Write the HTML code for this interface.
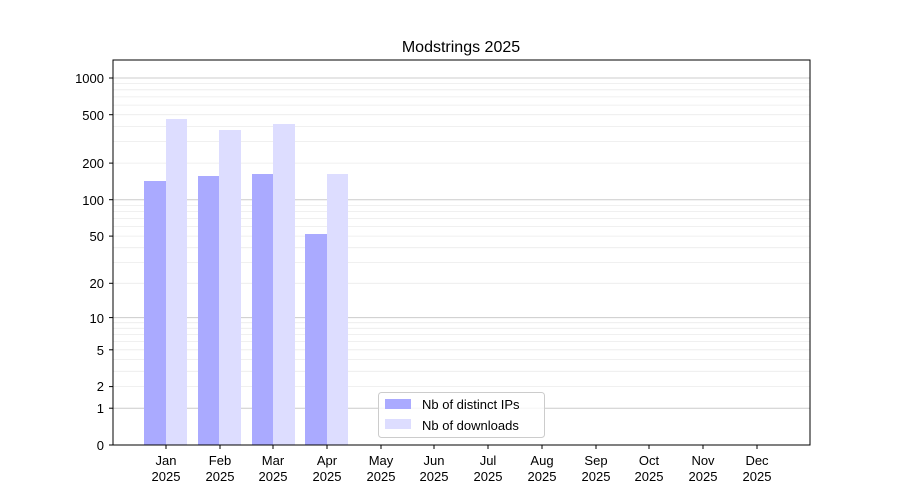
<!DOCTYPE html>
<html><head><meta charset="utf-8"><style>body{margin:0;background:#fff}svg{display:block}text{font-family:"Liberation Sans",sans-serif;font-size:13px;fill:#000}</style></head>
<body>
<svg width="900" height="500" xmlns="http://www.w3.org/2000/svg">
<rect width="900" height="500" fill="#fff"/>
<g stroke="#ebebeb" stroke-width="0.8">
<line x1="113" x2="810" y1="386.6" y2="386.6"/><line x1="113" x2="810" y1="371.3" y2="371.3"/><line x1="113" x2="810" y1="359.5" y2="359.5"/><line x1="113" x2="810" y1="349.8" y2="349.8"/><line x1="113" x2="810" y1="341.6" y2="341.6"/><line x1="113" x2="810" y1="334.5" y2="334.5"/><line x1="113" x2="810" y1="328.3" y2="328.3"/><line x1="113" x2="810" y1="322.7" y2="322.7"/>
<line x1="113" x2="810" y1="283.3" y2="283.3"/><line x1="113" x2="810" y1="262.6" y2="262.6"/><line x1="113" x2="810" y1="247.7" y2="247.7"/><line x1="113" x2="810" y1="236.1" y2="236.1"/><line x1="113" x2="810" y1="226.6" y2="226.6"/><line x1="113" x2="810" y1="218.6" y2="218.6"/><line x1="113" x2="810" y1="211.6" y2="211.6"/><line x1="113" x2="810" y1="205.5" y2="205.5"/>
<line x1="113" x2="810" y1="163.1" y2="163.1"/><line x1="113" x2="810" y1="141.6" y2="141.6"/><line x1="113" x2="810" y1="126.6" y2="126.6"/><line x1="113" x2="810" y1="114.7" y2="114.7"/><line x1="113" x2="810" y1="105.1" y2="105.1"/><line x1="113" x2="810" y1="96.9" y2="96.9"/><line x1="113" x2="810" y1="89.8" y2="89.8"/><line x1="113" x2="810" y1="83.6" y2="83.6"/>
</g>
<g stroke="#cccccc" stroke-width="1">
<line x1="113" x2="810" y1="408.2" y2="408.2"/><line x1="113" x2="810" y1="317.6" y2="317.6"/><line x1="113" x2="810" y1="199.7" y2="199.7"/><line x1="113" x2="810" y1="78" y2="78"/>
</g>
<g fill="#aaaaff">
<rect x="144" y="181" width="22" height="264"/><rect x="198" y="176" width="21" height="269"/><rect x="252" y="174" width="21" height="271"/><rect x="305" y="234" width="22" height="211"/>
</g>
<g fill="#ddddff">
<rect x="166" y="119" width="21" height="326"/><rect x="219" y="130" width="22" height="315"/><rect x="273" y="124" width="22" height="321"/><rect x="327" y="174" width="21" height="271"/>
</g>
<rect x="113" y="60" width="697" height="385" fill="none" stroke="#000" stroke-width="1"/>
<text x="461" y="52" text-anchor="middle" style="font-size:16px">Modstrings 2025</text>
<g stroke="#000"><line x1="109" x2="113" y1="445" y2="445"/><line x1="109" x2="113" y1="408.2" y2="408.2"/><line x1="109" x2="113" y1="386.6" y2="386.6"/><line x1="109" x2="113" y1="349.8" y2="349.8"/><line x1="109" x2="113" y1="317.6" y2="317.6"/><line x1="109" x2="113" y1="283.3" y2="283.3"/><line x1="109" x2="113" y1="236.1" y2="236.1"/><line x1="109" x2="113" y1="199.7" y2="199.7"/><line x1="109" x2="113" y1="163.1" y2="163.1"/><line x1="109" x2="113" y1="114.7" y2="114.7"/><line x1="109" x2="113" y1="78" y2="78"/></g>
<g text-anchor="end">
<text x="104" y="450">0</text><text x="104" y="413">1</text><text x="104" y="391">2</text><text x="104" y="355">5</text><text x="104" y="323">10</text><text x="104" y="288">20</text><text x="104" y="241">50</text><text x="104" y="205">100</text><text x="104" y="168">200</text><text x="104" y="120">500</text><text x="104" y="83">1000</text>
</g>
<g text-anchor="middle">
<text x="166" y="465">Jan</text><text x="166" y="481">2025</text>
<text x="220" y="465">Feb</text><text x="220" y="481">2025</text>
<text x="273" y="465">Mar</text><text x="273" y="481">2025</text>
<text x="327" y="465">Apr</text><text x="327" y="481">2025</text>
<text x="381" y="465">May</text><text x="381" y="481">2025</text>
<text x="434" y="465">Jun</text><text x="434" y="481">2025</text>
<text x="488" y="465">Jul</text><text x="488" y="481">2025</text>
<text x="542" y="465">Aug</text><text x="542" y="481">2025</text>
<text x="596" y="465">Sep</text><text x="596" y="481">2025</text>
<text x="649" y="465">Oct</text><text x="649" y="481">2025</text>
<text x="703" y="465">Nov</text><text x="703" y="481">2025</text>
<text x="757" y="465">Dec</text><text x="757" y="481">2025</text>
</g>
<g stroke="#000"><line x1="166" x2="166" y1="445" y2="449"/><line x1="220" x2="220" y1="445" y2="449"/><line x1="273" x2="273" y1="445" y2="449"/><line x1="327" x2="327" y1="445" y2="449"/><line x1="381" x2="381" y1="445" y2="449"/><line x1="434" x2="434" y1="445" y2="449"/><line x1="488" x2="488" y1="445" y2="449"/><line x1="542" x2="542" y1="445" y2="449"/><line x1="596" x2="596" y1="445" y2="449"/><line x1="649" x2="649" y1="445" y2="449"/><line x1="703" x2="703" y1="445" y2="449"/><line x1="757" x2="757" y1="445" y2="449"/></g>
<rect x="378.5" y="392.5" width="166" height="45" rx="3" fill="#fff" fill-opacity="0.8" stroke="#cccccc"/>
<rect x="385" y="399" width="26" height="10" fill="#aaaaff"/>
<rect x="385" y="419" width="26" height="10" fill="#ddddff"/>
<text x="422" y="409">Nb of distinct IPs</text>
<text x="422" y="430">Nb of downloads</text>
</svg>
</body></html>
